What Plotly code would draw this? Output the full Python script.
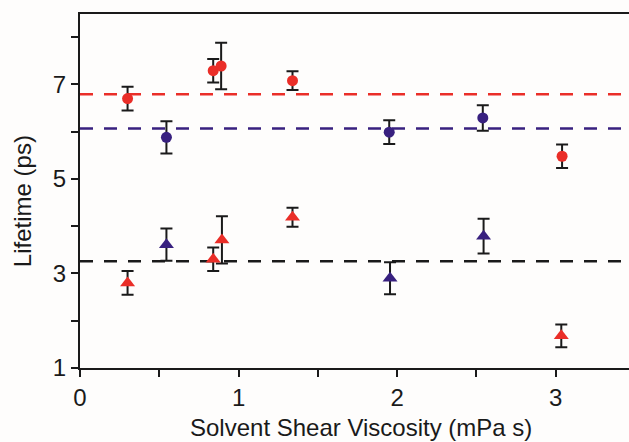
import plotly.graph_objects as go

# ---- data ----
red_circ_x = [0.30, 0.84, 0.89, 1.34, 3.04]
red_circ_y = [6.70, 7.29, 7.39, 7.08, 5.48]
red_circ_err = [0.25, 0.25, 0.49, 0.20, 0.25]

blue_circ_x = [0.545, 1.95, 2.54]
blue_circ_y = [5.88, 5.99, 6.29]
blue_circ_err = [0.34, 0.25, 0.27]

red_tri_x = [0.30, 0.84, 0.895, 1.34, 3.035]
red_tri_y = [2.80, 3.30, 3.71, 4.19, 1.68]
red_tri_err = [0.25, 0.25, 0.50, 0.20, 0.24]

blue_tri_x = [0.545, 1.955, 2.545]
blue_tri_y = [3.61, 2.90, 3.79]
blue_tri_err = [0.34, 0.34, 0.37]

ref_red = 6.79
ref_blue = 6.07
ref_black = 3.26

x_range = [0, 3.462]
y_range = [1, 8.49]
x_tickvals = [0, 0.5, 1, 1.5, 2, 2.5, 3]
x_ticktext = ["0", "", "1", "", "2", "", "3"]
y_tickvals = [1, 2, 3, 4, 5, 6, 7, 8]
y_ticktext = ["1", "", "3", "", "5", "", "7", ""]

RED = "#EA2E28"
BLUE = "#38207F"
BLACK = "#1A1A1A"
BG = "#FEFDFC"

fig = go.Figure()

for yv, col in [(ref_red, RED), (ref_blue, BLUE), (ref_black, BLACK)]:
    fig.add_trace(go.Scatter(x=x_range, y=[yv, yv], mode="lines",
                             line=dict(color=col, width=2.5, dash="13px,11px"),
                             hoverinfo="skip", showlegend=False))

def add_pts(xs, ys, errs, col, sym, size):
    fig.add_trace(go.Scatter(
        x=xs, y=ys, mode="markers",
        marker=dict(color=col, symbol=sym, size=size, line=dict(width=0)),
        error_y=dict(type="data", array=errs, visible=True, color=BLACK,
                     thickness=2, width=6),
        showlegend=False))

add_pts(red_circ_x, red_circ_y, red_circ_err, RED, "circle", 11)
add_pts(blue_circ_x, blue_circ_y, blue_circ_err, BLUE, "circle", 11)
add_pts(red_tri_x, red_tri_y, red_tri_err, RED, "triangle-up", 13)
add_pts(blue_tri_x, blue_tri_y, blue_tri_err, BLUE, "triangle-up", 13)

font = dict(family="Liberation Sans, Arial, sans-serif", size=24, color="#1A1A1A")

fig.update_layout(
    width=629, height=442,
    margin=dict(l=80, r=0, t=14, b=74),
    paper_bgcolor=BG, plot_bgcolor=BG,
    font=font,
    xaxis=dict(range=x_range, tickvals=x_tickvals, ticktext=x_ticktext,
               ticks="outside", ticklen=7, tickwidth=2, tickcolor=BLACK,
               showline=True, linewidth=2, linecolor=BLACK, mirror=True,
               showgrid=False, zeroline=False, tickfont=font),
    yaxis=dict(range=y_range, tickvals=y_tickvals, ticktext=y_ticktext,
               ticks="outside", ticklen=7, tickwidth=2, tickcolor=BLACK,
               showline=True, linewidth=2, linecolor=BLACK,
               showgrid=False, zeroline=False, tickfont=font),
    annotations=[
        dict(text="Solvent Shear Viscosity (mPa s)", xref="paper", yref="paper",
             x=0.5127, y=-0.1667, showarrow=False, font=font,
             xanchor="center", yanchor="middle"),
        dict(text="Lifetime (ps)", xref="paper", yref="paper",
             x=-0.1047, y=0.470, showarrow=False, font=font, textangle=-90,
             xanchor="center", yanchor="middle"),
    ],
)

fig.write_html("out.html")
